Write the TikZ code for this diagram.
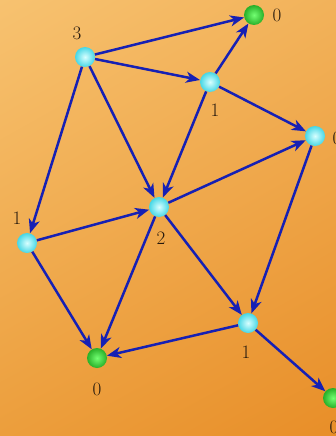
\documentclass[tikz,border=0pt]{standalone}
\usetikzlibrary{arrows.meta,shadings}
\definecolor{kante}{RGB}{22,32,180}
\definecolor{hgoben}{RGB}{247,194,112}
\definecolor{hgrechts}{RGB}{242,178,90}
\definecolor{hgunten}{RGB}{236,158,60}
\definecolor{hgecke}{RGB}{232,142,40}
\definecolor{kugelblau}{RGB}{70,215,230}
\definecolor{kugelgruen}{RGB}{40,175,40}
\tikzset{
  kugel/.style={circle, inner sep=0pt, minimum size=20pt, inner color=cyan!15!white, outer color=kugelblau},
  ziel/.style={circle, inner sep=0pt, minimum size=20pt, inner color=green!55!white, outer color=kugelgruen},
  pfeil/.style={-{Stealth[length=14pt,width=11pt,inset=4pt]}, draw=kante, line width=2.5pt},
  zahl/.style={font=\fontsize{19}{21}\selectfont, text=black!80!brown}
}
\begin{document}
\begin{tikzpicture}[x=1pt,y=-1pt]

% Hintergrund
\useasboundingbox (0,0) rectangle (336,436);
\clip (0,0) rectangle (336,436);
\shade[upper left=hgoben, upper right=hgrechts, lower left=hgunten, lower right=hgecke]
  (0,0) rectangle (336,436);

% Knoten
\node[kugel] (a) at (85,57) {};
\node[ziel]  (b) at (254,15) {};
\node[kugel] (c) at (210,82) {};
\node[kugel] (d) at (315,136) {};
\node[kugel] (e) at (159,207) {};
\node[kugel] (f) at (27,243) {};
\node[ziel]  (g) at (97,358) {};
\node[kugel] (h) at (248,323) {};
\node[ziel]  (i) at (333,398) {};

% Werte
\node[zahl] (la) at (77,33) {3};
\node[zahl] (lb) at (277,15) {0};
\node[zahl] (lc) at (215,110) {1};
\node[zahl] (ld) at (337,138) {0};
\node[zahl] (le) at (161,238) {2};
\node[zahl] (lf) at (17,218) {1};
\node[zahl] (lg) at (97,389) {0};
\node[zahl] (lh) at (246,352) {1};
\node[zahl] (li) at (334,427) {0};

% Kanten
\draw[pfeil] (a) -- (b);
\draw[pfeil] (a) -- (c);
\draw[pfeil] (a) -- (e);
\draw[pfeil] (a) -- (f);
\draw[pfeil] (c) -- (b);
\draw[pfeil] (c) -- (d);
\draw[pfeil] (c) -- (e);
\draw[pfeil] (e) -- (d);
\draw[pfeil] (f) -- (e);
\draw[pfeil] (f) -- (g);
\draw[pfeil] (e) -- (g);
\draw[pfeil] (e) -- (h);
\draw[pfeil] (d) -- (h);
\draw[pfeil] (h) -- (g);
\draw[pfeil] (h) -- (i);

\end{tikzpicture}
\end{document}
